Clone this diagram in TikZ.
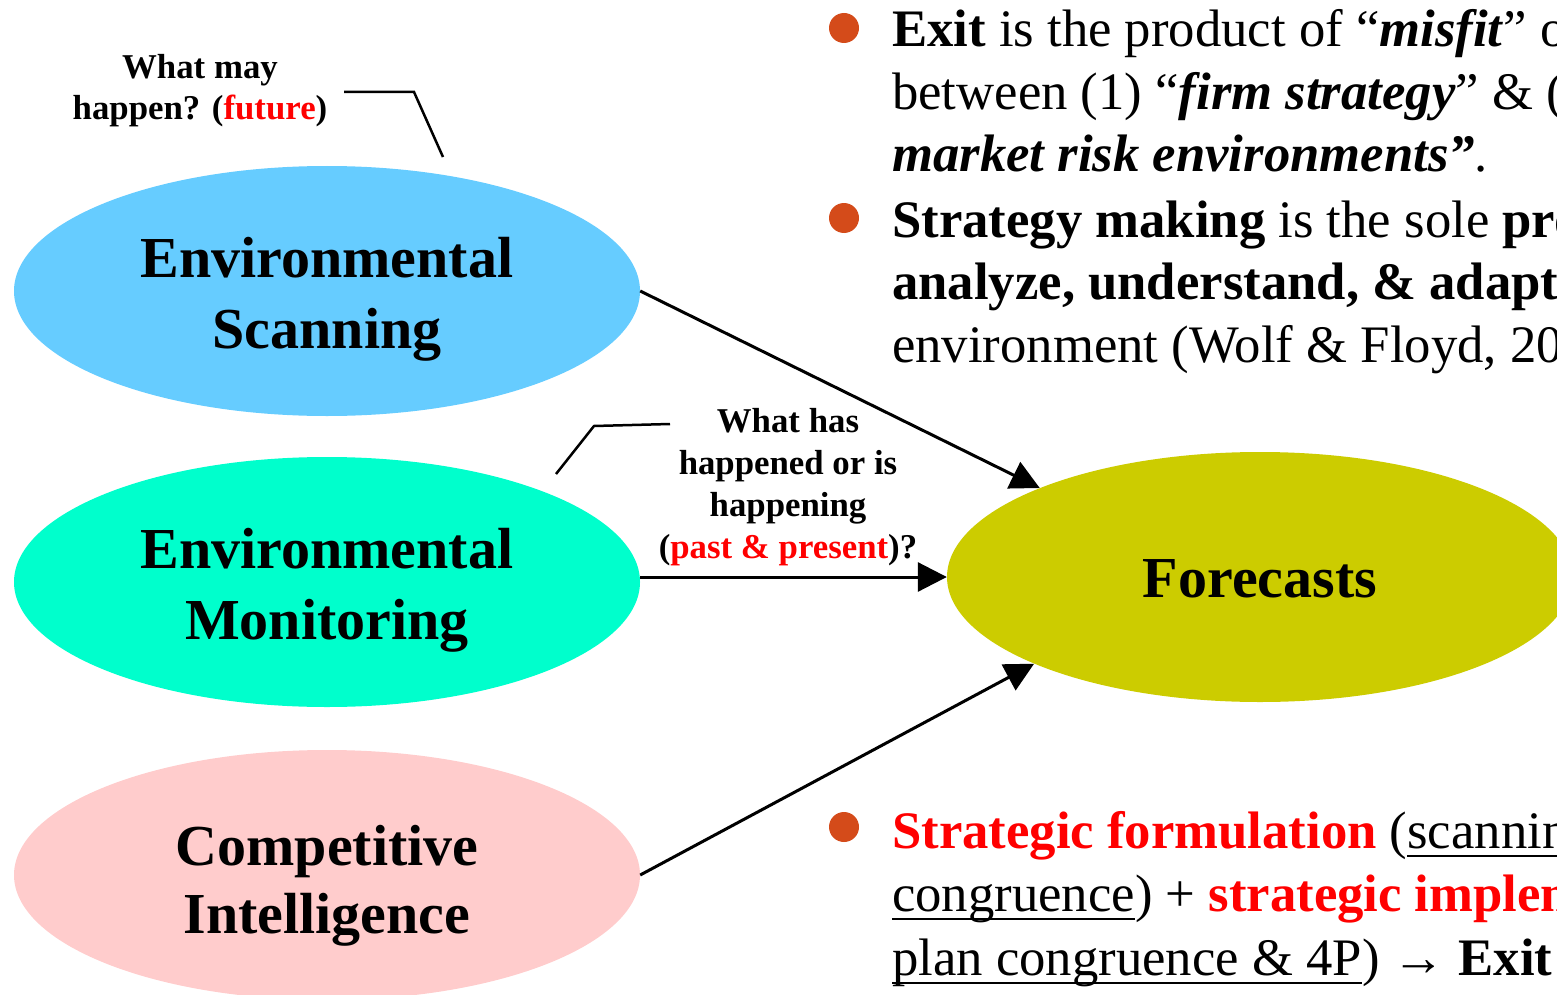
\documentclass[tikz,border=0pt]{standalone}
\usepackage{fontspec}
\setmainfont{Liberation Serif}
\usetikzlibrary{shapes.geometric,arrows.meta}
\definecolor{scanblue}{HTML}{66CCFF}
\definecolor{monitorgreen}{HTML}{00FFCC}
\definecolor{intelpink}{HTML}{FFCCCC}
\definecolor{forecastolive}{HTML}{CCCC00}
\definecolor{bulletorange}{HTML}{D44B1A}
% underline that runs through the descenders
\newcommand\ulin[1]{\leavevmode\setbox0\hbox{#1}\rlap{\rule[-9pt]{\wd0}{2.5pt}}\box0}
\begin{document}
\begin{tikzpicture}[x=1pt,y=-1pt,
  blob/.style={ellipse, minimum width=626pt, minimum height=250pt, inner sep=0pt, draw=none},
  bigline/.style={anchor=base, inner sep=0pt, font=\fontsize{58pt}{70pt}\selectfont\bfseries},
  noteline/.style={anchor=base, inner sep=0pt, font=\fontsize{34.8pt}{42pt}\selectfont\bfseries},
  bodyline/.style={anchor=base west, inner sep=0pt, font=\fontsize{52.7pt}{63pt}\selectfont},
  bulletdot/.style={circle, fill=bulletorange, minimum size=30pt, inner sep=0pt},
  flow/.style={line width=3pt, -{Triangle[length=29pt,width=29pt]}},
  callout/.style={line width=2.5pt},
]
\path[use as bounding box, clip] (0,0) rectangle (1557,995);

% the four ellipses
\node[blob, fill=scanblue]      (es) at (327,291) {};
\node[blob, fill=monitorgreen]  (em) at (327,582) {};
\node[blob, fill=intelpink]     (ci) at (327,875) {};
\node[blob, fill=forecastolive] (fc) at (1260,577) {};

% ellipse captions
\node[bigline] (es1) at (327,277) {Environmental};
\node[bigline] (es2) at (327,348) {Scanning};
\node[bigline] (em1) at (327,568) {Environmental};
\node[bigline] (em2) at (327,639) {Monitoring};
\node[bigline] (ci1) at (327,865) {Competitive};
\node[bigline] (ci2) at (327,933) {Intelligence};
\node[bigline] (fc1) at (1260,597) {Forecasts};

% connectors into the forecasts
\draw[flow] (es.east) -- (fc.158.6);
\draw[flow] (fc.west -| em.east) -- (fc.west);
\draw[flow] (ci.east) -- (fc.201.9);

% question labels and their callout lines
\node[noteline] (q1a) at (200,79) {What may};
\node[noteline] (q1b) at (200,120) {happen? (\textcolor{red}{future})};
\coordinate (c1a) at (344,92);
\coordinate (c1b) at (414,92);
\coordinate (c1c) at (443,157);
\draw[callout] (c1a) -- (c1b) -- (c1c);

\node[noteline] (q2a) at (788,432) {What has};
\node[noteline] (q2b) at (788,474) {happened or is};
\node[noteline] (q2c) at (788,516) {happening};
\node[noteline] (q2d) at (788,558) {(\textcolor{red}{past \& present})?};
\coordinate (c2a) at (670,424);
\coordinate (c2b) at (594,426);
\coordinate (c2c) at (556,474);
\draw[callout] (c2a) -- (c2b) -- (c2c);

% bullet points on the right
\node[bulletdot] (b1) at (844,28) {};
\node[bodyline] (t1a) at (892,47) {\textbf{Exit} is the product of “\textbf{\textit{misfit}}” or};
\node[bodyline] (t1b) at (892,110) {between (1) “\textbf{\textit{firm strategy}}” \& (2)};
\node[bodyline] (t1c) at (892,172) {\textbf{\textit{market risk environments”}}.};

\node[bulletdot] (b2) at (844,218) {};
\node[bodyline] (t2a) at (892,237) {\textbf{Strategy making} is the sole \textbf{process}};
\node[bodyline] (t2b) at (892,299) {\textbf{analyze, understand, \& adapt to}};
\node[bodyline] (t2c) at (892,362) {environment (Wolf \& Floyd, 2013)};

\node[bulletdot] (b3) at (844,827) {};
\node[bodyline] (t3a) at (892,848) {\textcolor{red}{\textbf{Strategic formulation}} (\ulin{scanning \&}};
\node[bodyline] (t3b) at (892,911) {\ulin{congruence}) + \textcolor{red}{\textbf{strategic implementation}}};
\node[bodyline] (t3c) at (892,975) {\ulin{plan congruence \& 4P}) → \textbf{Exit}};
\end{tikzpicture}
\end{document}
